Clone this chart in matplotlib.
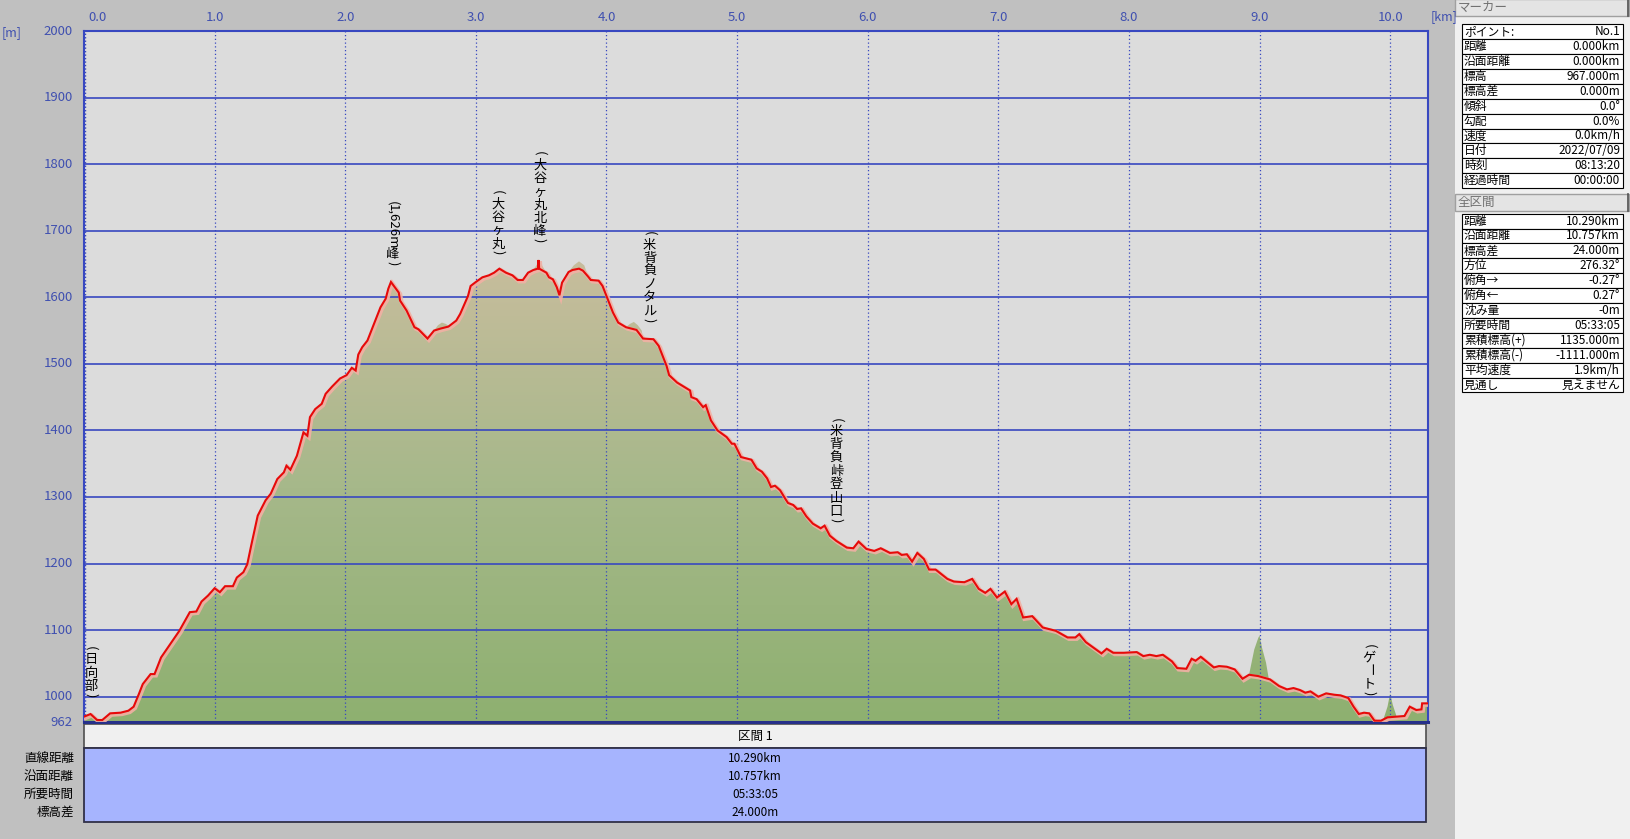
import numpy as np
import matplotlib
matplotlib.use("Agg")
import matplotlib.pyplot as plt
import matplotlib.patheffects as pe
from matplotlib.patches import Rectangle, Polygon
from matplotlib.colors import LinearSegmentedColormap

plt.rcParams['font.family'] = ['Noto Sans CJK JP', 'DejaVu Sans']

# track profile (distance km, elevation m)
track_km = [0.00, 0.05, 0.10, 0.14, 0.20, 0.28, 0.34, 0.38, 0.42, 0.45, 0.51, 0.54, 0.59, 0.66, 0.73,
            0.81, 0.86, 0.90, 0.95, 1.00, 1.04, 1.08, 1.14, 1.17, 1.22, 1.25, 1.28, 1.31, 1.33, 1.39,
            1.43, 1.48, 1.53, 1.55, 1.58, 1.63, 1.68, 1.71, 1.73, 1.77, 1.82, 1.85, 1.90, 1.96, 2.01,
            2.05, 2.08, 2.10, 2.13, 2.17, 2.22, 2.27, 2.31, 2.33, 2.35, 2.41, 2.42, 2.47, 2.53, 2.56,
            2.63, 2.68, 2.73, 2.79, 2.85, 2.88, 2.94, 2.96, 3.00, 3.05, 3.10, 3.14, 3.18, 3.23, 3.28,
            3.32, 3.36, 3.40, 3.44, 3.475, 3.48, 3.485, 3.54, 3.56, 3.59, 3.62, 3.64, 3.66, 3.71, 3.74,
            3.79, 3.82, 3.86, 3.88, 3.94, 3.97, 4.01, 4.05, 4.09, 4.15, 4.23, 4.28, 4.36, 4.40, 4.46,
            4.48, 4.54, 4.64, 4.65, 4.69, 4.74, 4.76, 4.80, 4.85, 4.92, 4.96, 4.98, 5.03, 5.11, 5.15,
            5.19, 5.23, 5.26, 5.29, 5.33, 5.37, 5.39, 5.43, 5.46, 5.49, 5.53, 5.58, 5.64, 5.67, 5.71,
            5.76, 5.84, 5.89, 5.93, 5.99, 6.05, 6.10, 6.17, 6.23, 6.26, 6.30, 6.34, 6.38, 6.43, 6.47,
            6.52, 6.61, 6.66, 6.74, 6.80, 6.85, 6.90, 6.94, 6.99, 7.05, 7.10, 7.14, 7.19, 7.26, 7.34,
            7.44, 7.53, 7.59, 7.62, 7.67, 7.74, 7.79, 7.83, 7.88, 7.96, 8.06, 8.11, 8.16, 8.21, 8.26,
            8.33, 8.37, 8.44, 8.48, 8.51, 8.55, 8.60, 8.65, 8.69, 8.75, 8.81, 8.87, 8.92, 8.99, 9.08,
            9.15, 9.21, 9.26, 9.31, 9.35, 9.39, 9.45, 9.51, 9.57, 9.62, 9.68, 9.72, 9.76, 9.80, 9.84,
            9.88, 9.93, 9.98, 10.11, 10.15, 10.20, 10.24, 10.245, 10.29]
track_m = [970, 974, 965, 965, 975, 976, 979, 985, 1004, 1019, 1034, 1034, 1059, 1079, 1099,
           1127, 1128, 1143, 1152, 1163, 1157, 1166, 1166, 1179, 1187, 1199, 1227, 1254, 1272, 1295,
           1305, 1327, 1337, 1347, 1341, 1362, 1397, 1392, 1420, 1432, 1440, 1455, 1466, 1478, 1483,
           1494, 1490, 1514, 1525, 1535, 1560, 1585, 1598, 1613, 1623, 1607, 1595, 1580, 1555, 1552,
           1538, 1550, 1553, 1556, 1565, 1575, 1602, 1617, 1623, 1630, 1633, 1637, 1643, 1637, 1633,
           1626, 1626, 1637, 1641, 1643, 1656, 1643, 1637, 1630, 1627, 1615, 1603, 1622, 1638, 1641,
           1643, 1640, 1631, 1626, 1625, 1617, 1597, 1577, 1562, 1555, 1551, 1538, 1537, 1527, 1497,
           1483, 1472, 1460, 1450, 1447, 1435, 1438, 1415, 1400, 1390, 1380, 1380, 1360, 1356, 1343,
           1338, 1328, 1315, 1317, 1310, 1297, 1291, 1288, 1282, 1283, 1271, 1260, 1253, 1257, 1242,
           1234, 1224, 1223, 1233, 1222, 1219, 1223, 1216, 1217, 1213, 1214, 1203, 1216, 1207, 1191,
           1191, 1177, 1173, 1172, 1177, 1162, 1156, 1162, 1149, 1158, 1139, 1147, 1119, 1121, 1104,
           1099, 1089, 1089, 1094, 1082, 1072, 1065, 1072, 1066, 1066, 1067, 1061, 1063, 1061, 1063,
           1053, 1043, 1042, 1057, 1054, 1060, 1052, 1044, 1046, 1045, 1041, 1027, 1033, 1031, 1026,
           1016, 1011, 1013, 1010, 1006, 1008, 1000, 1005, 1003, 1002, 998, 985, 974, 976, 975,
           964, 964, 969, 971, 985, 980, 981, 990, 990]

# terrain bumps where the map profile differs from the track
bumps_km = [[2.68, 2.71, 2.74, 2.77, 2.80],
            [3.44, 3.47, 3.48, 3.50, 3.54],
            [3.71, 3.75, 3.79, 3.83, 3.86],
            [4.15, 4.18, 4.21, 4.24, 4.27],
            [8.92, 8.96, 8.99, 9.00, 9.02, 9.05, 9.07],
            [9.95, 9.98, 10.00, 10.02, 10.05]]
bumps_m = [[1550, 1558, 1562, 1560, 1556],
           [1641, 1650, 1657, 1650, 1637],
           [1638, 1648, 1654, 1648, 1631],
           [1555, 1560, 1563, 1558, 1550],
           [1033, 1071, 1088, 1092, 1073, 1051, 1028],
           [967, 985, 1005, 988, 970]]

wp_names = ["(日向部)", "(1,626m峰)", "(大谷ヶ丸)", "(大谷ヶ丸北峰)", "(米背負ノタル)", "(米背負峠登山口)", "(ゲート)"]
wp_km = [0.054, 2.366, 3.17, 3.49, 4.33, 5.76, 9.84]
wp_m = [973, 1622, 1638, 1656, 1536, 1236, 976]

x_ticks = [0, 1, 2, 3, 4, 5, 6, 7, 8, 9, 10]
y_ticks = [962, 1000, 1100, 1200, 1300, 1400, 1500, 1600, 1700, 1800, 1900, 2000]

marker_labels = ["ポイント:", "距離", "沿面距離", "標高", "標高差", "傾斜", "勾配", "速度", "日付", "時刻", "経過時間"]
marker_values = ["No.1", "0.000km", "0.000km", "967.000m", "0.000m", "0.0°", "0.0%", "0.0km/h",
                 "2022/07/09", "08:13:20", "00:00:00"]
total_labels = ["距離", "沿面距離", "標高差", "方位", "俯角→", "俯角←", "沈み量", "所要時間",
                "累積標高(+)", "累積標高(-)", "平均速度", "見通し"]
total_values = ["10.290km", "10.757km", "24.000m", "276.32°", "-0.27°", "0.27°", "-0m", "05:33:05",
                "1135.000m", "-1111.000m", "1.9km/h", "見えません"]
sec_labels = ["直線距離", "沿面距離", "所要時間", "標高差"]
sec_values = ["10.290km", "10.757km", "05:33:05", "24.000m"]

W, H = 1630, 839
BLUE = '#3848c0'
TXT_BLUE = '#4050b0'

fig = plt.figure(figsize=(W / 100, H / 100), dpi=100)
fig.patch.set_facecolor('#c0c0c0')

# overlay in pixel coordinates for panels and tables
ov = fig.add_axes([0, 0, 1, 1])
ov.set_xlim(0, W)
ov.set_ylim(H, 0)
ov.axis('off')
ov.set_zorder(0)

ax = fig.add_axes([84 / W, (H - 722) / H, (1428 - 84) / W, (722 - 31) / H])
ax.set_zorder(1)
ax.set_facecolor('#dcdcdc')
xmax = track_km[-1]
ax.set_xlim(0, xmax)
ax.set_ylim(962, 2000)
ax.set_xticks([])
ax.set_yticks([])
for s in ax.spines.values():
    s.set_color(BLUE)
    s.set_linewidth(1.5)
ax.spines['bottom'].set_color('#26308a')
ax.spines['bottom'].set_linewidth(2.2)

# terrain polygon = track with bumps swapped in
terr = [(k, m) for k, m in zip(track_km, track_m)
        if not any(b[0] < k < b[-1] for b in bumps_km)]
for bk, bm in zip(bumps_km, bumps_m):
    terr += list(zip(bk, bm))
terr.sort()
terr_xy = np.array(terr + [(xmax, 962), (0, 962)])

cmap = LinearSegmentedColormap.from_list('terrain', ['#8eb070', '#a6b88a', '#c8bd9d'])
grad = np.linspace(0, 1, 256).reshape(-1, 1)
im = ax.imshow(grad, extent=[0, xmax, 962, 1665], origin='lower', cmap=cmap, aspect='auto', zorder=1)
poly = Polygon(terr_xy, closed=True, facecolor='none', edgecolor='none', transform=ax.transData)
ax.add_patch(poly)
im.set_clip_path(poly)

for v in y_ticks[1:-1]:
    ax.axhline(v, color=BLUE, lw=1.2, zorder=2)
for k in x_ticks[1:]:
    ax.axvline(k, color=BLUE, lw=0.9, ls=(0, (1, 2)), zorder=2)
ax.axvline(0.01, color=BLUE, lw=1.0, ls=(0, (1, 1.5)), zorder=2)

ax.plot(track_km, track_m, color='#e60a0a', lw=1.5, zorder=4, solid_joinstyle='miter',
        path_effects=[pe.SimpleLineShadow(offset=(1, -1), shadow_color='#f2b0a4', alpha=0.9, linewidth=3.0),
                      pe.Normal()])

# tick labels
for k in x_ticks:
    ax.annotate(f"{k:.1f}", xy=(k, 1), xycoords=('data', 'axes fraction'),
                xytext=(3 if k == 0 else 0, 10), textcoords='offset points',
                ha='left' if k == 0 else 'center', va='center', color=TXT_BLUE, fontsize=9.5)
for v in y_ticks:
    ax.annotate(str(v), xy=(0, v), xycoords=('axes fraction', 'data'), xytext=(-8, 0),
                textcoords='offset points', ha='right', va='center', color=TXT_BLUE, fontsize=9.5)
ov.text(2, 33, "[m]", color=TXT_BLUE, fontsize=9, va='center', ha='left')
ov.text(1431, 17, "[km]", color=TXT_BLUE, fontsize=9, va='center', ha='left')


# vertical waypoint labels
def vlabel(name, km, m):
    toks = []
    run = ""
    for ch in name:
        if ch in "()":
            if run:
                toks.append((run, True, len(run) * 6.6))
                run = ""
            toks.append((ch, True, 7.0))
        elif ord(ch) < 128:
            run += ch
        else:
            if run:
                toks.append((run, True, len(run) * 6.6))
                run = ""
            toks.append((ch, ch == 'ー', 13.3))
    y = 16.0
    for t, rot, h in reversed(toks):
        yc = y + h / 2
        ax.annotate(t, xy=(km, m), xytext=(0, yc * 0.72), textcoords='offset points',
                    ha='center', va='center' if rot else 'center_baseline',
                    rotation=-90 if rot else 0, fontsize=9.5, color='black', zorder=5)
        y += h


for n, k, m in zip(wp_names, wp_km, wp_m):
    vlabel(n, k, m)

# section table below the chart
ov.add_patch(Rectangle((84, 724), 1342, 24, facecolor='#f0f0f0', edgecolor='#505050', lw=1.2))
ov.text(755, 736.5, "区間 1", ha='center', va='center', fontsize=9)
ov.add_patch(Rectangle((84, 748), 1342, 74, facecolor='#a6b4fe', edgecolor='#303048', lw=1.3))
for i, (lab, val) in enumerate(zip(sec_labels, sec_values)):
    yy = 758 + i * 18.2
    ov.text(74, yy, lab, ha='right', va='center', fontsize=9)
    ov.text(755, yy, val, ha='center', va='center', fontsize=8.5)

# right info panel
ov.add_patch(Rectangle((1455, 0), 175, H, facecolor='#f0f0f0', edgecolor='none'))


def header(y0, text):
    ov.add_patch(Rectangle((1455, y0), 174, 17, facecolor='#e4e4e4', edgecolor='#a0a0a0', lw=1))
    ov.plot([1628, 1628], [y0, y0 + 17], color='#505050', lw=1.2)
    ov.text(1458, y0 + 8.5, text, ha='left', va='center', fontsize=9, color='#707070')


def info_table(y0, labels, values):
    rh = 14.9
    for i, (lab, val) in enumerate(zip(labels, values)):
        yt = y0 + i * rh
        ov.add_patch(Rectangle((1462, yt), 161, rh, facecolor='white', edgecolor='black', lw=0.8))
        ov.text(1464, yt + rh / 2, lab, ha='left', va='center', fontsize=8.5)
        ov.text(1620, yt + rh / 2, val, ha='right', va='center', fontsize=8.5)


header(-1, "マーカー")
info_table(24.2, marker_labels, marker_values)
header(194, "全区間")
info_table(213.6, total_labels, total_values)

fig.savefig("out.png", dpi=100, facecolor=fig.get_facecolor())
